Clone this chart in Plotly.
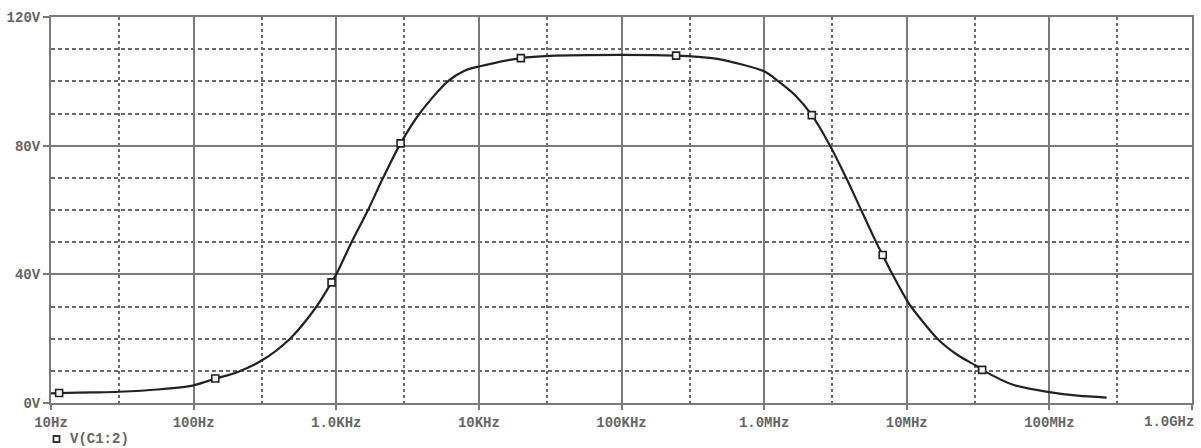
import plotly.graph_objects as go

# ---- data (frequency in Hz, voltage in V) ----
freq_hz = [10, 11.4, 20, 30, 56, 100, 142, 200, 300, 474, 728, 927, 1000,
           1280, 1670, 2130, 2825, 3840, 6050, 7940, 10000, 19700, 31600,
           100000, 241500, 346000, 482000, 1.0e6, 1.26e6, 1.65e6, 2.16e6,
           2.9e6, 3.76e6, 4.79e6, 6.10e6, 6.78e6, 7.94e6, 1.0e7, 1.07e7,
           1.64e7, 2.26e7, 3.0e7, 3.38e7, 5.62e7, 1.0e8, 1.58e8, 2.52e8]
volts = [3.0, 3.1, 3.3, 3.5, 4.2, 5.5, 7.6, 9.5, 13.2, 20.0, 30.0, 37.5, 40.0,
         50.0, 60.0, 70.0, 80.7, 90.0, 100.0, 103.3, 104.6, 107.2, 107.9,
         108.2, 108.0, 107.6, 106.9, 103.1, 100.0, 95.7, 89.5,
         80.0, 70.0, 60.0, 50.0, 46.0, 40.0, 32.0, 30.0,
         20.0, 15.0, 11.8, 10.3, 5.6, 3.4, 2.3, 1.7]

marker_freq_hz = [11.4, 142, 927, 2825, 19700, 241500, 2.16e6, 6.78e6, 3.38e7]
marker_volts = [3.1, 7.6, 37.5, 80.7, 107.2, 108.0, 89.5, 46.0, 10.3]

series_name = "V(C1:2)"

x_tick_vals = [10, 100, 1e3, 1e4, 1e5, 1e6, 1e7, 1e8, 1e9]
x_tick_text = ["10Hz", "100Hz", "1.0KHz", "10KHz", "100KHz", "1.0MHz", "10MHz", "100MHz", ""]
x_last_label = "1.0GHz"
x_minor_vals = [30, 300, 3e3, 3e4, 3e5, 3e6, 3e7, 3e8]

y_tick_vals = [0, 40, 80, 120]
y_tick_text = ["<b>0V</b>", "<b>40V</b>", "<b>80V</b>", "<b>120V</b>"]

FONT = "Liberation Mono, Courier New, monospace"
TXT = "#666666"
GRID = "#7a7a7a"
DOT = "#6a6a6a"

fig = go.Figure()
fig.add_trace(go.Scatter(
    x=freq_hz, y=volts, mode="lines",
    line=dict(color="#222222", width=2.2, shape="spline", smoothing=0.8),
    showlegend=False, hoverinfo="skip"))
fig.add_trace(go.Scatter(
    x=marker_freq_hz, y=marker_volts, mode="markers", name=series_name,
    marker=dict(symbol="square", size=7, color="#f4f4f4",
                line=dict(color="#222222", width=1.6)),
    showlegend=False))

fig.update_layout(
    width=1201, height=448,
    margin=dict(l=50, r=7, t=17, b=45),
    paper_bgcolor="white", plot_bgcolor="white",
    font=dict(family=FONT, size=14, color=TXT),
    xaxis=dict(
        type="log", range=[1, 9],
        tickmode="array", tickvals=x_tick_vals,
        ticktext=["<b>%s</b>" % t if t else "" for t in x_tick_text],
        showgrid=True, gridcolor=GRID, gridwidth=1.8,
        minor=dict(tickmode="array", tickvals=x_minor_vals, showgrid=True,
                   gridcolor=DOT, gridwidth=1.5, griddash="3px,3px", ticks=""),
        showline=True, linecolor=GRID, linewidth=2, mirror=True,
        ticks="outside", ticklen=5, tickwidth=1.5, tickcolor=GRID,
        zeroline=False,
        tickfont=dict(family=FONT, size=14, color=TXT),
    ),
    yaxis=dict(
        range=[0, 120],
        tickmode="array", tickvals=y_tick_vals, ticktext=y_tick_text,
        showgrid=True, gridcolor=GRID, gridwidth=1.8,
        minor=dict(dtick=10, tick0=0, showgrid=True, gridcolor=DOT,
                   gridwidth=1.5, griddash="4px,3px", ticks=""),
        showline=True, linecolor=GRID, linewidth=2, mirror=True,
        ticks="outside", ticklen=6, tickwidth=1.5, tickcolor=GRID,
        zeroline=False,
        tickfont=dict(family=FONT, size=14, color=TXT),
    ),
    annotations=[
        dict(text="<b>%s</b>" % x_last_label, xref="paper", yref="paper", x=1, y=0,
             xanchor="right", yanchor="middle", xshift=4, yshift=-18.5,
             showarrow=False, font=dict(family=FONT, size=14, color=TXT)),
        dict(text="<b>%s</b>" % series_name, xref="paper", yref="paper", x=0, y=0,
             xanchor="left", yanchor="middle", xshift=17, yshift=-36,
             showarrow=False, font=dict(family=FONT, size=14, color=TXT)),
    ],
    shapes=[
        dict(type="rect", xref="paper", yref="paper",
             xsizemode="pixel", ysizemode="pixel", xanchor=0, yanchor=0,
             x0=2.5, x1=8.5, y0=-33, y1=-39,
             line=dict(color="#333333", width=1.8), fillcolor="white"),
    ],
)

fig.write_html("out.html", config={"displayModeBar": False},
               post_script="document.body.style.margin='0';document.body.style.overflow='hidden';")
